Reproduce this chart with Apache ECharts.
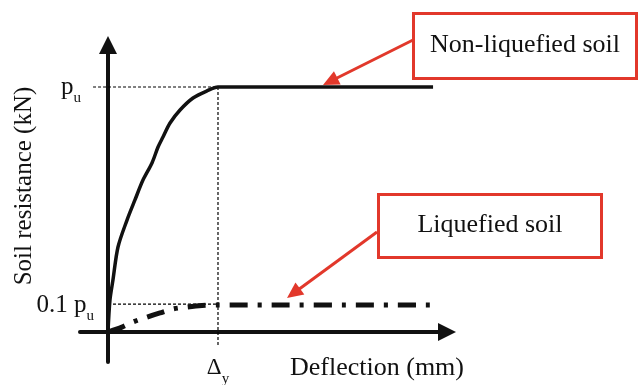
<!DOCTYPE html>
<html>
<head>
<meta charset="utf-8">
<script src="https://cdn.jsdelivr.net/npm/echarts@6/dist/echarts.min.js"></script>
<style>html,body{margin:0;padding:0;background:#fff;}#c{width:639px;height:385px;}</style>
</head>
<body>
<div id="c"></div>
<script>
// Deflection in units of Δy, resistance in units of p_u
var nonLiqX = [0, 0.018, 0.045, 0.091, 0.173, 0.245, 0.318, 0.40, 0.455, 0.50, 0.564, 0.655, 0.773, 0.90, 1.0, 2.955];
var nonLiqY = [0, 0.131, 0.212, 0.347, 0.457, 0.539, 0.620, 0.690, 0.755, 0.796, 0.853, 0.906, 0.955, 0.984, 1.0, 1.0];
var liqX = [0, 0.127, 0.227, 0.355, 0.473, 0.591, 0.718, 0.855, 1.0, 2.955];
var liqY = [0, 0.020, 0.041, 0.061, 0.078, 0.094, 0.102, 0.108, 0.110, 0.110];
var yTickValues = [0.11, 1];
var yTickLabels = ['0.1 p|u', 'p|u'];
var xTickValues = [1];
var xTickLabels = ['Δ|y'];
var annotations = ['Non-liquefied soil', 'Liquefied soil'];

function zip(a, b) { return a.map(function (v, i) { return [v, b[i]]; }); }

var RED = '#e2382b';
var FONT = '"Liberation Serif", "Times New Roman", serif';

function arrow(x1, y1, x2, y2) {
  var dx = x2 - x1, dy = y2 - y1, L = Math.sqrt(dx * dx + dy * dy);
  var ux = dx / L, uy = dy / L, hl = 16, hw = 7.5;
  var bx = x2 - ux * hl, by = y2 - uy * hl;
  return [
    { type: 'line', shape: { x1: x1, y1: y1, x2: bx + ux * 2, y2: by + uy * 2 }, style: { stroke: RED, lineWidth: 3 }, z: 20 },
    { type: 'polygon', shape: { points: [[x2, y2], [bx - uy * hw, by + ux * hw], [bx + uy * hw, by - ux * hw]] }, style: { fill: RED }, z: 20 }
  ];
}

var chart = echarts.init(document.getElementById('c'), null, { renderer: 'canvas' });
var axisLineStyle = { color: '#111', width: 4 };
var guideStyle = { color: '#000', width: 1.2, type: [3, 2] };
var option = {
  animation: false,
  grid: { left: 80, right: 192, top: 45, bottom: 23, containLabel: false, outerBoundsMode: 'none' },
  xAxis: {
    type: 'value', min: -0.2545, max: 3.0818,
    axisLine: { onZero: true, lineStyle: axisLineStyle, symbol: ['none', 'triangle'], symbolSize: [18, 18] },
    axisTick: { show: false },
    splitLine: { show: false },
    axisLabel: {
      customValues: xTickValues, margin: -5,
      formatter: function (v) {
        var i = xTickValues.indexOf(v); var p = xTickLabels[i].split('|');
        return '{a|' + p[0] + '}{s|' + p[1] + '}';
      },
      rich: {
        a: { fontFamily: FONT, fontSize: 23, color: '#111', lineHeight: 22 },
        s: { fontFamily: FONT, fontSize: 15, color: '#111', lineHeight: 22, verticalAlign: 'bottom', padding: [0, 0, -8, 0] }
      }
    }
  },
  yAxis: {
    type: 'value', min: -0.1224, max: 1.1714,
    axisLine: { onZero: true, lineStyle: axisLineStyle, symbol: ['none', 'triangle'], symbolSize: [18, 18] },
    axisTick: { show: false },
    splitLine: { show: false },
    axisLabel: {
      customValues: yTickValues, margin: -14,
      formatter: function (v) {
        var i = yTickValues.indexOf(v); var p = yTickLabels[i].split('|');
        return '{a|' + p[0] + '}{s|' + p[1] + '}' + (i === 1 ? '{pad|}' : '');
      },
      rich: {
        a: { fontFamily: FONT, fontSize: 25, color: '#111', lineHeight: 24 },
        s: { fontFamily: FONT, fontSize: 15, color: '#111', lineHeight: 24, verticalAlign: 'bottom', padding: [0, 0, -7, 0] },
        pad: { width: 13 }
      }
    }
  },
  series: [
    {
      name: 'Non-liquefied soil', type: 'line', data: zip(nonLiqX, nonLiqY), smooth: 0.3,
      symbol: 'none', silent: true, lineStyle: { color: '#111', width: 3.5 }, z: 5
    },
    {
      name: 'Liquefied soil', type: 'line', data: zip(liqX, liqY), smooth: 0.3,
      symbol: 'none', silent: true, lineStyle: { color: '#111', width: 5, type: [18, 10, 4, 10], cap: 'butt' }, z: 5
    },
    { type: 'line', data: [[-0.136, 1], [1, 1]], symbol: 'none', silent: true, lineStyle: guideStyle, z: 3 },
    { type: 'line', data: [[0, 0.114], [1, 0.114]], symbol: 'none', silent: true, lineStyle: guideStyle, z: 3 },
    { type: 'line', data: [[1, 1], [1, -0.053]], symbol: 'none', silent: true, lineStyle: guideStyle, z: 3 }
  ],
  graphic: [
    { type: 'text', x: 24, y: 186, rotation: Math.PI / 2, style: { text: 'Soil resistance (kN)', font: '25px ' + FONT, fill: '#111', align: 'center', verticalAlign: 'middle' } },
    { type: 'text', x: 377, y: 368, style: { text: 'Deflection (mm)', font: '26px ' + FONT, fill: '#111', align: 'center', verticalAlign: 'middle' } },
    { type: 'rect', shape: { x: 413.5, y: 13.5, width: 223, height: 65 }, style: { fill: '#fff', stroke: RED, lineWidth: 3 }, z: 10 },
    { type: 'text', x: 525, y: 45, style: { text: annotations[0], font: '26px ' + FONT, fill: '#111', align: 'center', verticalAlign: 'middle' }, z: 11 },
    { type: 'rect', shape: { x: 378.5, y: 194.5, width: 223, height: 63 }, style: { fill: '#fff', stroke: RED, lineWidth: 3 }, z: 10 },
    { type: 'text', x: 490, y: 225, style: { text: annotations[1], font: '26px ' + FONT, fill: '#111', align: 'center', verticalAlign: 'middle' }, z: 11 }
  ].concat(arrow(413, 40, 323, 85)).concat(arrow(377, 232, 287, 298))
};
chart.setOption(option);
</script>
</body>
</html>
